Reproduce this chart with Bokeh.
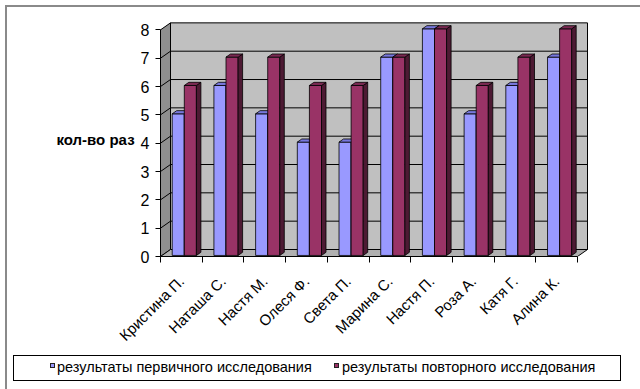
import math
from bokeh.plotting import figure
from bokeh.layouts import column
from bokeh.models import FixedTicker, Range1d, Div
from bokeh.embed import file_html
from bokeh.resources import INLINE

# ---- data ----
names = ["Кристина П.", "Наташа С.", "Настя М.", "Олеся Ф.", "Света П.",
         "Марина С.", "Настя П.", "Роза А.", "Катя Г.", "Алина К."]
first = [5, 6, 5, 4, 4, 7, 8, 5, 6, 7]
second = [6, 7, 7, 6, 6, 7, 8, 6, 7, 8]
y_ticks = [0, 1, 2, 3, 4, 5, 6, 7, 8]
series_labels = ["результаты первичного исследования",
                 "результаты повторного исследования"]
y_title = "кол-во раз"
colors_front = ["#9999ff", "#993366"]
colors_side = ["#5c5cb0", "#4d1a33"]
colors_top = ["#7777dd", "#7a2952"]

# ---- geometry (pixels per unit, depth offset) ----
PX, PY = 41.7, 28.33
DX, DY = 10 / PX, 7 / PY
N = len(names)
YMAX = y_ticks[-1]
x_end = 428 / PX
y_end = 235 / PY
F1, F2 = 0.15, 0.6          # bar depth (fraction of wall depth)
BW = 0.29                   # bar width (category units)
OFF = 0.245                 # first bar offset in category

FONT = "Liberation Sans"
W = 638
H1, H2 = 352, 36

p = figure(width=W, height=H1, x_range=Range1d(0, x_end), y_range=Range1d(0, y_end),
           output_backend="svg", toolbar_location=None,
           min_border_left=160, min_border_right=W - 160 - 428, min_border_top=21,
           min_border_bottom=H1 - 21 - 235)
p.grid.visible = False
p.outline_line_color = None
p.background_fill_color = None
p.border_fill_color = None

# walls
p.patch([0, DX, DX, 0], [0, DY, YMAX + DY, YMAX], fill_color="#8f8f8f",
        line_color="black", line_width=1)
p.quad(left=[DX], right=[N + DX], bottom=[DY], top=[YMAX + DY], fill_color="#c0c0c0",
       line_color="black", line_width=1)
p.patch([0, N, N + DX, DX], [0, 0, DY, DY], fill_color="#b0b0b0",
        line_color="black", line_width=1)

gx, gy = [], []
for k in y_ticks[1:-1]:
    gx.append([DX, N + DX]); gy.append([k + DY, k + DY])
    gx.append([0, DX]); gy.append([k, k + DY])
p.multi_line(gx, gy, line_color="black", line_width=1)


def draw_bars(vals, off, front, side, top):
    sx1, sy1, sx2, sy2 = F1 * DX, F1 * DY, F2 * DX, F2 * DY
    lefts = [i + off + sx1 for i in range(N)]
    rights = [i + off + BW + sx1 for i in range(N)]
    r = p.quad(left=lefts, right=rights, bottom=[sy1] * N, top=[v + sy1 for v in vals],
               fill_color=front, line_color="black", line_width=0.8)
    sxs, sys_, txs, tys = [], [], [], []
    for i, v in enumerate(vals):
        x0 = i + off
        x1 = x0 + BW
        sxs.append([x1 + sx1, x1 + sx2, x1 + sx2, x1 + sx1])
        sys_.append([sy1, sy2, v + sy2, v + sy1])
        txs.append([x0 + sx1, x1 + sx1, x1 + sx2, x0 + sx2])
        tys.append([v + sy1, v + sy1, v + sy2, v + sy2])
    p.patches(sxs, sys_, fill_color=side, line_color="black", line_width=0.8)
    p.patches(txs, tys, fill_color=top, line_color="black", line_width=0.8)
    return r


draw_bars(first, OFF, colors_front[0], colors_side[0], colors_top[0])
draw_bars(second, OFF + BW, colors_front[1], colors_side[1], colors_top[1])

# axes
LBL = 0.5
xa = p.xaxis[0]
xa.ticker = FixedTicker(ticks=[i + LBL for i in range(N)], minor_ticks=list(range(N + 1)))
xa.major_label_overrides = {i + LBL: names[i] for i in range(N)}
xa.bounds = (0, N)
xa.major_tick_line_color = None
xa.minor_tick_line_color = "black"
xa.minor_tick_out = 6
xa.minor_tick_in = 0
xa.axis_line_color = "black"
xa.major_label_orientation = math.pi / 4
xa.major_label_text_font = FONT
xa.major_label_text_font_size = "15px"
xa.major_label_text_color = "black"
xa.major_label_standoff = 16

ya = p.yaxis[0]
ya.ticker = FixedTicker(ticks=y_ticks)
ya.bounds = (0, YMAX)
ya.major_tick_out = 5
ya.major_tick_in = 0
ya.major_tick_line_color = "black"
ya.minor_tick_line_color = None
ya.axis_line_color = "black"
ya.major_label_text_font = FONT
ya.major_label_text_font_size = "16px"
ya.major_label_text_color = "black"
ya.major_label_standoff = 6
ya.axis_label = y_title
ya.axis_label_orientation = "horizontal"
ya.axis_label_text_font = FONT
ya.axis_label_text_font_style = "bold"
ya.axis_label_text_font_size = "15px"
ya.axis_label_text_color = "black"
ya.axis_label_standoff = 3

# ---- legend (HTML box under the chart) ----
sq = ("position:absolute;top:7px;width:5px;height:5px;border:1px solid #222;"
      "background:{c};left:{x}px;")
tx = "position:absolute;top:0;left:{x}px;"
legend_html = (
    '<div style="box-sizing:border-box;position:relative;margin:-2px 0 0 8px;'
    'width:608px;height:26px;border:1px solid #000;background:#fff;'
    "font-family:'Liberation Sans',Arial,sans-serif;font-size:14.5px;color:#000;"
    'white-space:nowrap;line-height:22px;">'
    f'<span style="{sq.format(c=colors_front[0], x=36)}"></span>'
    f'<span style="{tx.format(x=43)}">{series_labels[0]}</span>'
    f'<span style="{sq.format(c=colors_front[1], x=320)}"></span>'
    f'<span style="{tx.format(x=328)}">{series_labels[1]}</span>'
    '</div>'
)
leg = Div(text=legend_html, width=W, height=H2)

lay = column(p, leg, spacing=0)
lay.styles = {"outline": "2px solid #8a8a8a", "outline-offset": "-7px"}

open("out.html", "w").write(file_html(lay, INLINE))
